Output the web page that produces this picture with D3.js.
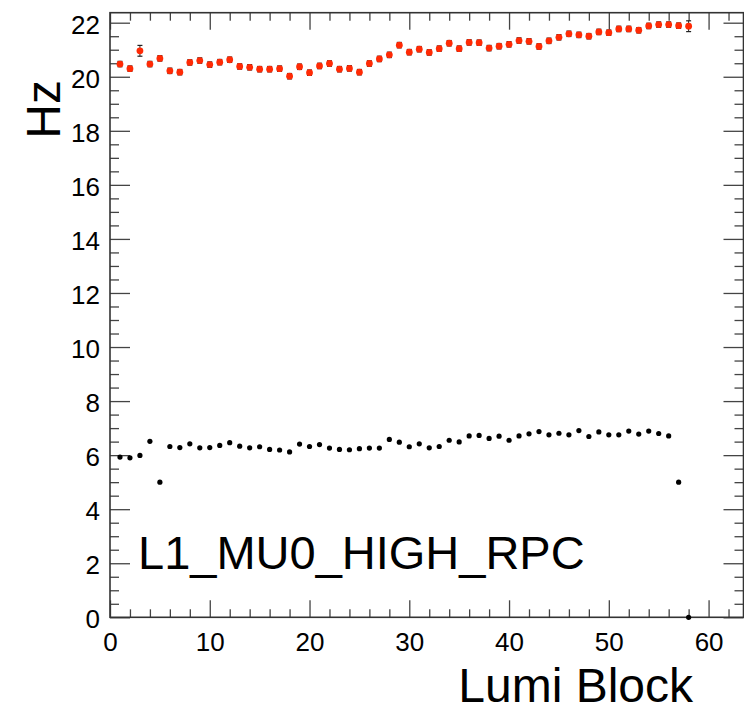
<!DOCTYPE html>
<html>
<head>
<meta charset="utf-8">
<script src="https://cdn.jsdelivr.net/npm/d3@7"></script>
<style>
body { margin: 0; background: white; }
svg { display: block; font-family: "Liberation Sans", Helvetica, Arial, sans-serif; }
</style>
</head>
<body>
<svg width="744" height="708"></svg>
<script>
// lumi blocks 1..58
var lumiBlocks = d3.range(1, 59)

// red series (upper)
var redRate = [20.47, 20.30, 20.96, 20.47, 20.68, 20.22, 20.17, 20.53, 20.60, 20.45,
    20.54, 20.63, 20.38, 20.35, 20.28, 20.28, 20.30, 20.02, 20.37, 20.15,
    20.40, 20.49, 20.28, 20.31, 20.17, 20.49, 20.66, 20.81, 21.17, 20.91,
    21.02, 20.90, 21.04, 21.24, 21.04, 21.27, 21.26, 21.06, 21.13, 21.20,
    21.34, 21.31, 21.12, 21.33, 21.46, 21.59, 21.55, 21.50, 21.66, 21.63,
    21.77, 21.77, 21.72, 21.88, 21.93, 21.93, 21.89, 21.87]
var redErr = lumiBlocks.map(function(d) { return (d == 3 || d == 58) ? 0.2 : 0.1 })

// black series (lower)
var blackRate = [5.93, 5.90, 5.99, 6.51, 5.00, 6.32, 6.28, 6.42, 6.27, 6.28,
    6.36, 6.46, 6.33, 6.27, 6.31, 6.21, 6.19, 6.12, 6.41, 6.32,
    6.39, 6.26, 6.21, 6.20, 6.24, 6.26, 6.26, 6.58, 6.48, 6.31,
    6.42, 6.27, 6.32, 6.55, 6.49, 6.71, 6.73, 6.62, 6.70, 6.55,
    6.71, 6.79, 6.87, 6.75, 6.81, 6.75, 6.91, 6.69, 6.86, 6.75,
    6.75, 6.89, 6.78, 6.89, 6.80, 6.71, 5.00, 0.0]

var xMajor = d3.range(0, 61, 10)
var xMinor = d3.range(0, 64, 2).filter(function(d) { return d % 10 != 0 })
var yMajor = d3.range(0, 23, 2)
var yMinor = d3.range(0, 22.4, 0.5).filter(function(d) { return d % 2 != 0 })

var frameL = 110, frameR = 743.5, frameT = 12.7, frameB = 617.3

var x = d3.scaleLinear().domain([0, 63.5]).range([frameL, frameR])
var y = d3.scaleLinear().domain([0, 22.37]).range([frameB, frameT])

var svg = d3.select("svg")

svg.append("rect")
    .attr("width", 744).attr("height", 708).attr("fill", "white")

var tickColor = "#444"

var styleAxis = function(g) {
    g.select(".domain").remove()
    g.selectAll(".tick line").attr("stroke", tickColor).attr("stroke-width", 1.3)
    g.selectAll("text").attr("fill", "black").attr("font-family", "Liberation Sans")
}

// bottom
svg.append("g").attr("transform", "translate(0," + frameB + ")")
    .call(d3.axisBottom(x).tickValues(xMajor).tickSize(-17).tickPadding(15).tickFormat(d3.format("d")))
    .call(styleAxis)
    .selectAll("text").attr("font-size", 26)
svg.append("g").attr("transform", "translate(0," + frameB + ")")
    .call(d3.axisBottom(x).tickValues(xMinor).tickSize(-8).tickFormat(""))
    .call(styleAxis)

// top
svg.append("g").attr("transform", "translate(0," + frameT + ")")
    .call(d3.axisTop(x).tickValues(xMajor).tickSize(-17).tickFormat(""))
    .call(styleAxis)
svg.append("g").attr("transform", "translate(0," + frameT + ")")
    .call(d3.axisTop(x).tickValues(xMinor).tickSize(-8).tickFormat(""))
    .call(styleAxis)

// left
svg.append("g").attr("transform", "translate(" + frameL + ",0)")
    .call(d3.axisLeft(y).tickValues(yMajor).tickSize(-20).tickPadding(10).tickFormat(d3.format("d")))
    .call(styleAxis)
    .selectAll("text").attr("font-size", 26).attr("dy", "0.4em")
svg.append("g").attr("transform", "translate(" + frameL + ",0)")
    .call(d3.axisLeft(y).tickValues(yMinor).tickSize(-9).tickFormat(""))
    .call(styleAxis)

// right
svg.append("g").attr("transform", "translate(" + frameR + ",0)")
    .call(d3.axisRight(y).tickValues(yMajor).tickSize(-20).tickFormat(""))
    .call(styleAxis)
svg.append("g").attr("transform", "translate(" + frameR + ",0)")
    .call(d3.axisRight(y).tickValues(yMinor).tickSize(-9).tickFormat(""))
    .call(styleAxis)

// frame
svg.append("rect")
    .attr("x", frameL).attr("y", frameT)
    .attr("width", frameR - frameL).attr("height", frameB - frameT)
    .attr("fill", "none").attr("stroke", "#333").attr("stroke-width", 1.6)

// error bars on red points
var errs = svg.append("g")
errs.selectAll("line.bar")
    .data(lumiBlocks)
    .enter()
    .append("line")
    .attr("x1", function(d) { return x(d) })
    .attr("x2", function(d) { return x(d) })
    .attr("y1", function(d, i) { return y(redRate[i] - redErr[i]) })
    .attr("y2", function(d, i) { return y(redRate[i] + redErr[i]) })
    .attr("stroke", "#222").attr("stroke-width", 1)
errs.selectAll("line.capTop")
    .data(lumiBlocks)
    .enter()
    .append("line")
    .attr("x1", function(d) { return x(d) - 2.5 })
    .attr("x2", function(d) { return x(d) + 2.5 })
    .attr("y1", function(d, i) { return y(redRate[i] + redErr[i]) })
    .attr("y2", function(d, i) { return y(redRate[i] + redErr[i]) })
    .attr("stroke", "#222").attr("stroke-width", 1.2)
errs.selectAll("line.capBot")
    .data(lumiBlocks)
    .enter()
    .append("line")
    .attr("x1", function(d) { return x(d) - 2.5 })
    .attr("x2", function(d) { return x(d) + 2.5 })
    .attr("y1", function(d, i) { return y(redRate[i] - redErr[i]) })
    .attr("y2", function(d, i) { return y(redRate[i] - redErr[i]) })
    .attr("stroke", "#222").attr("stroke-width", 1.2)

svg.append("g").selectAll("circle")
    .data(lumiBlocks)
    .enter()
    .append("circle")
    .attr("cx", function(d) { return x(d) })
    .attr("cy", function(d, i) { return y(redRate[i]) })
    .attr("r", 3.4)
    .attr("fill", "#ff2a05")

svg.append("g").selectAll("circle")
    .data(lumiBlocks)
    .enter()
    .append("circle")
    .attr("cx", function(d) { return x(d) })
    .attr("cy", function(d, i) { return y(blackRate[i]) })
    .attr("r", 2.6)
    .attr("fill", "black")

// titles
svg.append("text")
    .attr("x", 693).attr("y", 702)
    .attr("text-anchor", "end")
    .attr("font-size", 48)
    .text("Lumi Block")

svg.append("text")
    .attr("transform", "translate(60,80) rotate(-90)")
    .attr("text-anchor", "end")
    .attr("font-size", 48)
    .text("Hz")

svg.append("text")
    .attr("x", 138).attr("y", 569)
    .attr("font-size", 47)
    .text("L1_MU0_HIGH_RPC")
</script>
</body>
</html>
